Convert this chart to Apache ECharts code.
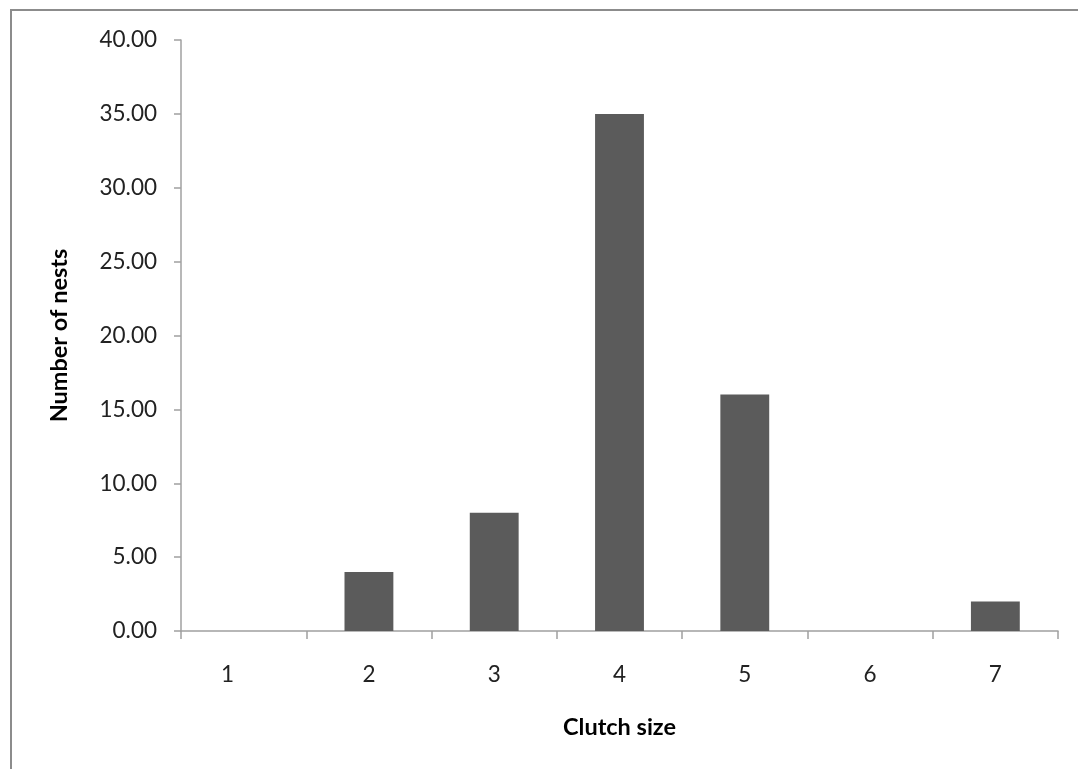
<!DOCTYPE html>
<html>
<head>
<meta charset="utf-8">
<script src="https://cdn.jsdelivr.net/npm/echarts@6/dist/echarts.min.js"></script>
<style>
html,body{margin:0;padding:0;background:#fff;overflow:hidden;}
#frame{position:absolute;left:10px;top:9px;width:1100px;height:800px;border-left:2px solid #8c8c8c;border-top:2px solid #8c8c8c;box-sizing:border-box;}
#chart{position:absolute;left:0;top:0;width:1078px;height:769px;}
</style>
</head>
<body>
<div id="frame"></div>
<div id="chart"></div>
<script>
const categories = ['1','2','3','4','5','6','7'];
const nests = [0, 4, 8, 35, 16, 0, 2];
const xTitle = 'Clutch size';
const yTitle = 'Number of nests';

const chart = echarts.init(document.getElementById('chart'), null, {renderer:'canvas'});
const font = 'Lato, "Open Sans", sans-serif';
chart.setOption({
  animation:false,
  backgroundColor:'transparent',
  grid:{left:181,right:20,top:40,bottom:138,containLabel:false},
  xAxis:{
    type:'category',
    data:categories,
    name:xTitle,
    nameLocation:'middle',
    nameGap:84,
    nameTextStyle:{fontFamily:font,fontSize:23.5,fontWeight:'bold',color:'#000'},
    axisLine:{lineStyle:{color:'#a0a0a0',width:1.5}},
    axisTick:{show:true,length:8,lineStyle:{color:'#a0a0a0',width:1.5}},
    axisLabel:{
      margin:32,fontFamily:font,fontSize:22.5,color:'#222',
      formatter:(v,i)=> i===0 ? '{first|'+v+'}' : v,
      rich:{first:{fontFamily:font,fontSize:22.5,color:'#222',padding:[0,32,0,0]}}
    },
    splitLine:{show:false}
  },
  yAxis:{
    type:'value',
    min:0,max:40,interval:5,
    name:yTitle,
    nameLocation:'middle',
    nameGap:110,
    nameRotate:90,
    nameTextStyle:{fontFamily:font,fontSize:23.5,fontWeight:'bold',color:'#000'},
    axisLine:{show:true,lineStyle:{color:'#a0a0a0',width:1.5}},
    axisTick:{show:true,length:7,lineStyle:{color:'#a0a0a0',width:1.5}},
    axisLabel:{margin:24,fontFamily:font,fontSize:22.5,color:'#222',formatter:v=>v.toFixed(2)},
    splitLine:{show:false}
  },
  series:[{
    type:'bar',
    data:nests,
    barWidth:'39%',
    itemStyle:{color:'#5b5b5b',borderWidth:0}
  }]
});
</script>
</body>
</html>
